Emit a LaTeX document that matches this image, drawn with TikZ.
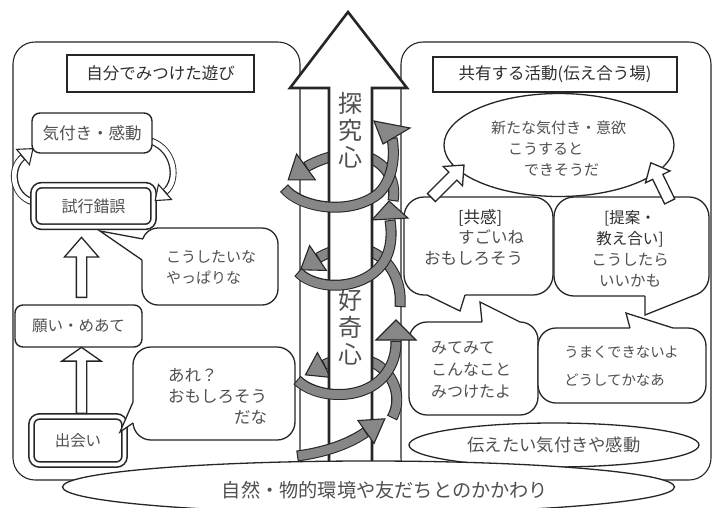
\documentclass[tikz,border=0pt]{standalone}
\usepackage{fontspec}
\setmainfont{Noto Sans CJK JP}
\usetikzlibrary{shapes.geometric,shapes.arrows,calc}
\definecolor{txt}{HTML}{505050}
\definecolor{ttl}{HTML}{2E2E2E}
\definecolor{ln}{HTML}{262626}
\definecolor{bandc}{HTML}{878787}
\newcommand\fs[1]{\fontsize{#1}{#1}\selectfont}
\newcommand\fsb[2]{\fontsize{#1}{#2}\selectfont}
\newcommand\spband[1]{%
  \draw[line width=11pt, draw=ln, line cap=butt] #1;
  \draw[line width=8.8pt, draw=bandc, line cap=butt, shorten <=1.1pt, shorten >=1.1pt] #1;}
\newcommand\wband[1]{%
  \draw[line width=7pt, draw=ln, line cap=butt] #1;
  \draw[line width=4.8pt, draw=white, line cap=butt, shorten <=1pt, shorten >=1pt] #1;}
\newcommand\arhead[5]{\filldraw[#1, shift={(#2)}, rotate=#3] (#5,0) -- (0,#4) -- (0,-#4) -- cycle;}
\newcommand\bubptr[5]{%
  \fill[white] (#1) -- (#2) -- (#3) -- ($(#3)+(#4,#5)$) -- ($(#1)+(#4,#5)$) -- cycle;
  \draw[bubline] (#1) -- (#2) -- (#3);}
\tikzset{
  panel/.style={draw=ln, line width=1.1pt, rounded corners=22pt},
  ttlbox/.style={draw=ln, line width=1.7pt, fill=white, inner sep=0pt, text=ttl},
  rbox/.style={draw=ln, line width=1.4pt, fill=white, rounded corners=8pt, inner sep=0pt, text=txt},
  dbox/.style={draw=ln, line width=1.6pt, double=white, double distance=3.6pt, fill=white, rounded corners=8pt, inner sep=0pt, text=txt},
  bub/.style={draw=ln, line width=1.3pt, fill=white, rounded corners=16pt, inner sep=0pt},
  bubline/.style={draw=ln, line width=1.3pt, line join=miter},
  lbl/.style={text=txt, inner sep=0pt, align=left},
  hollow/.style={single arrow, draw=ln, fill=white, line width=1.3pt, inner xsep=0pt, single arrow head indent=0pt},
  sphd/.style={fill=bandc, draw=ln, line width=1.1pt, line join=miter},
  whd/.style={fill=white, draw=ln, line width=1.1pt, line join=miter},
  oval/.style={ellipse, draw=ln, line width=1.3pt, fill=white, inner sep=0pt, text=txt},
}
\begin{document}
\begin{tikzpicture}[x=1pt,y=-1pt]
\useasboundingbox (0,0) rectangle (716,507);
\clip (0,0) rectangle (716,507);
\fill[white] (0,0) rectangle (716,507);
% panels
\draw[panel] (13,42) rectangle (300,480);
\draw[panel] (401,42) rectangle (711,480);
% ---------- left panel
\node[ttlbox, minimum width=187pt, minimum height=37pt] (ttlL) at (160.5,73.5) {\fs{16.5}自分でみつけた遊び};
\wband{(33,202) .. controls (12,196) and (9,168) .. (23,157)}
\wband{(151,141) .. controls (175,150) and (179,180) .. (165,192)}
\node[rbox, minimum width=120pt, minimum height=40pt] (kizuki) at (92,133) {\fs{16.5}気付き・感動};
\node[dbox, minimum width=120pt, minimum height=41.5pt] (shiko) at (93.5,206) {\fs{16}試行錯誤};
\arhead{whd}{23,157}{40}{10}{13}
\arhead{whd}{165,192}{221}{10}{13}
\node[rbox, minimum width=127pt, minimum height=42pt] (negai) at (78.5,326) {\fs{15.5}願い・めあて};
\node[dbox, minimum width=93pt, minimum height=48pt] (deai) at (78,440.5) {\fs{15.5}出会い};
\node[hollow, inner ysep=4.5pt, minimum height=66pt, single arrow head extend=14.5pt, single arrow tip angle=110, rotate=90, anchor=tail] (ar1) at (81.5,414) {};
\node[hollow, inner ysep=4.5pt, minimum height=60pt, single arrow head extend=12pt, single arrow tip angle=82, rotate=90, anchor=tail] (ar2) at (81.5,298) {};
\node[bub, minimum width=136pt, minimum height=77pt] (kou) at (210,266.5) {};
\bubptr{143,239}{100,231}{142,260}{3}{0}
\node[lbl, font=\fsb{15}{21}] (kout) at (211,267.5) {こうしたいな\\やっぱりな};
\node[bub, minimum width=162pt, minimum height=93pt, rounded corners=18pt] (are) at (214,393.5) {};
\bubptr{133,402}{120,432}{133,423}{3}{0}
\node[lbl, font=\fsb{16.5}{21}] (aret) at (217.5,396) {あれ？\\おもしろそう\\\hspace*{4em}だな};
% ---------- right panel
\node[ttlbox, minimum width=244pt, minimum height=35pt] (ttlR) at (555,74.5) {\fs{16.5}共有する活動(伝え合う場)};
\node[oval, minimum width=230pt, minimum height=103pt] (arata) at (559,145) {};
\node[lbl, font=\fsb{15}{21}] (aratat) at (558.5,149) {新たな気付き・意欲\\\hspace*{17pt}こうすると\\\hspace*{33pt}できそうだ};
\node[bub, minimum width=149pt, minimum height=98pt, rounded corners=20pt] (kyo) at (478.5,246) {};
\node[bub, minimum width=155pt, minimum height=99pt, rounded corners=20pt] (tei) at (631.5,246.5) {};
\bubptr{427,295}{460,311}{465,295}{0}{-3}
\bubptr{645,296}{645,315}{695,295}{0}{-3}
\node[lbl, font=\fsb{16.5}{20.5}] (kyot) at (474,237.5) {\hspace*{34pt}{\color{ttl}[共感]}\\\hspace*{34pt}すごいね\\おもしろそう};
\node[lbl, align=center, font=\fsb{15.5}{21}] (teit) at (630,248.5) {{\color{ttl}[提案・}\\{\color{ttl}教え合い]}\\こうしたら\\いいかも};
\node[hollow, inner ysep=5pt, minimum height=46pt, single arrow head extend=8pt, single arrow tip angle=82, rotate=45, anchor=tail] (ar3) at (431,198) {};
\node[hollow, inner ysep=5pt, minimum height=43pt, single arrow head extend=8pt, single arrow tip angle=82, rotate=116, anchor=tail] (ar4) at (670,202) {};
\node[bub, minimum width=129pt, minimum height=93pt, rounded corners=18pt] (mite) at (473.5,368.5) {};
\bubptr{482,322}{480,302}{520,322}{0}{3}
\node[lbl, font=\fsb{16}{22}] (mitet) at (471,370) {みてみて\\こんなこと\\みつけたよ};
\node[bub, minimum width=168pt, minimum height=75pt, rounded corners=18pt] (uma) at (622,365.5) {};
\bubptr{630,328}{626,313}{673,328}{0}{3}
\node[lbl, font=\fsb{14.4}{28}] (umat) at (621.6,366) {うまくできないよ\\どうしてかなあ};
\node[oval, minimum width=290pt, minimum height=44pt] (tsutae) at (554,445) {\fs{17.3}伝えたい気付きや感動};
% ---------- spiral: back parts
\spband{(393,201) .. controls (397,180) and (385,160) .. (360,155) .. controls (342,152) and (322,158) .. (306,167)}
\arhead{sphd}{306,167}{216}{16}{22}
\spband{(400,307) .. controls (402,285) and (393,262) .. (372,252) .. controls (355,245) and (335,248) .. (318,258)}
\arhead{sphd}{318,258}{214}{15}{21}
\spband{(392,418) .. controls (402,400) and (396,376) .. (376,364) .. controls (360,356) and (340,357) .. (324,365)}
\arhead{sphd}{324,365}{208}{14}{21}
% ---------- big arrow
\filldraw[fill=white, draw=ln, line width=2.6pt, line join=miter] (329,470) -- (329,88) -- (290,88) -- (348,12) -- (407,88) -- (372,88) -- (372,470);
\node[font=\fsb{24}{27}, text=txt, align=center, inner sep=0pt] (tanq) at (350,130) {探\\究\\心};
\node[font=\fsb{24}{27}, text=txt, align=center, inner sep=0pt] (koki) at (350,327) {好\\奇\\心};
% ---------- spiral: front parts
\spband{(284,188) .. controls (300,208) and (350,216) .. (378,194) .. controls (391,182) and (396,160) .. (392,138)}
\filldraw[sphd] (374,121) -- (410,128) -- (383,144) -- cycle;
\spband{(298,272) .. controls (315,290) and (362,292) .. (383,263) .. controls (392,250) and (392,233) .. (390,220)}
\arhead{sphd}{390,219}{93}{18}{18}
\spband{(297,380) .. controls (315,398) and (362,402) .. (384,376) .. controls (394,364) and (396,352) .. (396,341)}
\arhead{sphd}{396,340}{90}{20}{20}
\spband{(297,456) .. controls (320,453) and (346,446) .. (366,432)}
\arhead{sphd}{366,432}{35}{14}{23}
% ---------- bottom ellipse
\node[oval, minimum width=612pt, minimum height=52pt] (shizen) at (368.5,487) {};
\node[lbl, font=\fs{19.2}] (shizent) at (385,490) {自然・物的環境や友だちとのかかわり};
\end{tikzpicture}
\end{document}
